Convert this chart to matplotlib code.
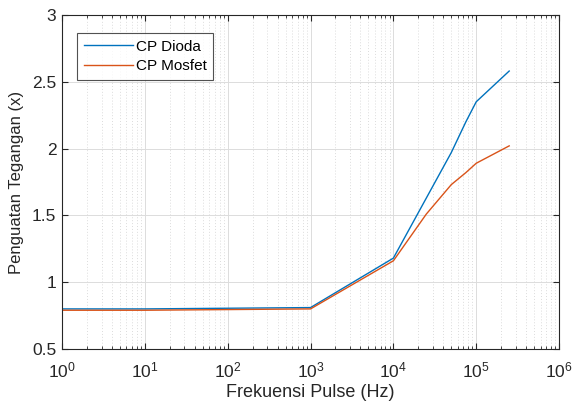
import matplotlib
matplotlib.use("Agg")
import matplotlib.pyplot as plt
from matplotlib.ticker import LogLocator, NullFormatter

plt.rcParams['font.family'] = ['Liberation Sans', 'DejaVu Sans']

freq = [1, 10, 100, 1000, 10000, 25000, 50000, 75000, 100000, 250000]
cp_dioda = [0.80, 0.80, 0.805, 0.81, 1.18, 1.63, 1.97, 2.20, 2.35, 2.58]
cp_mosfet = [0.79, 0.79, 0.795, 0.80, 1.16, 1.51, 1.73, 1.82, 1.89, 2.02]

fig = plt.figure(figsize=(5.74, 4.03), dpi=100)
ax = fig.add_axes([0.108, 0.134, 0.866, 0.829])

ax.plot(freq, cp_dioda, color='#0072BD', lw=1.0, label='CP Dioda')
ax.plot(freq, cp_mosfet, color='#D95319', lw=1.0, label='CP Mosfet')

ax.set_xscale('log')
ax.set_xlim(1, 1e6)
ax.set_ylim(0.5, 3)
ax.set_yticks([0.5, 1, 1.5, 2, 2.5, 3])
ax.set_yticklabels(['0.5', '1', '1.5', '2', '2.5', '3'])
ax.xaxis.set_major_locator(LogLocator(base=10, numticks=10))
ax.xaxis.set_minor_locator(LogLocator(base=10, subs=range(2, 10), numticks=100))
ax.xaxis.set_minor_formatter(NullFormatter())

ax.grid(True, which='major', color='#dcdcdc', lw=0.7, ls='-')
ax.grid(True, which='minor', axis='x', color='#dcdcdc', lw=0.7, ls=(0, (1, 2)))
ax.set_axisbelow(True)

ax.tick_params(which='both', direction='in', top=True, right=True, labelsize=12.5, colors='#262626')
ax.tick_params(axis='y', pad=4)
ax.tick_params(axis='x', pad=8)
ax.tick_params(which='major', length=4)
ax.tick_params(which='minor', length=2.5)
for s in ax.spines.values():
    s.set_color('#262626')
    s.set_linewidth(0.8)

ax.set_xlabel('Frekuensi Pulse (Hz)', fontsize=13, color='#262626', labelpad=3)
ax.set_ylabel('Penguatan Tegangan (x)', fontsize=12, color='#262626', labelpad=6)

leg = ax.legend(loc='upper left', bbox_to_anchor=(0.03, 0.946), borderaxespad=0, fontsize=11,
                frameon=True, fancybox=False, edgecolor='#262626', handlelength=3.2, borderpad=0.45,
                labelspacing=0.35, handletextpad=0.2)
leg.get_frame().set_linewidth(0.8)

fig.savefig('out.png', dpi=100)
